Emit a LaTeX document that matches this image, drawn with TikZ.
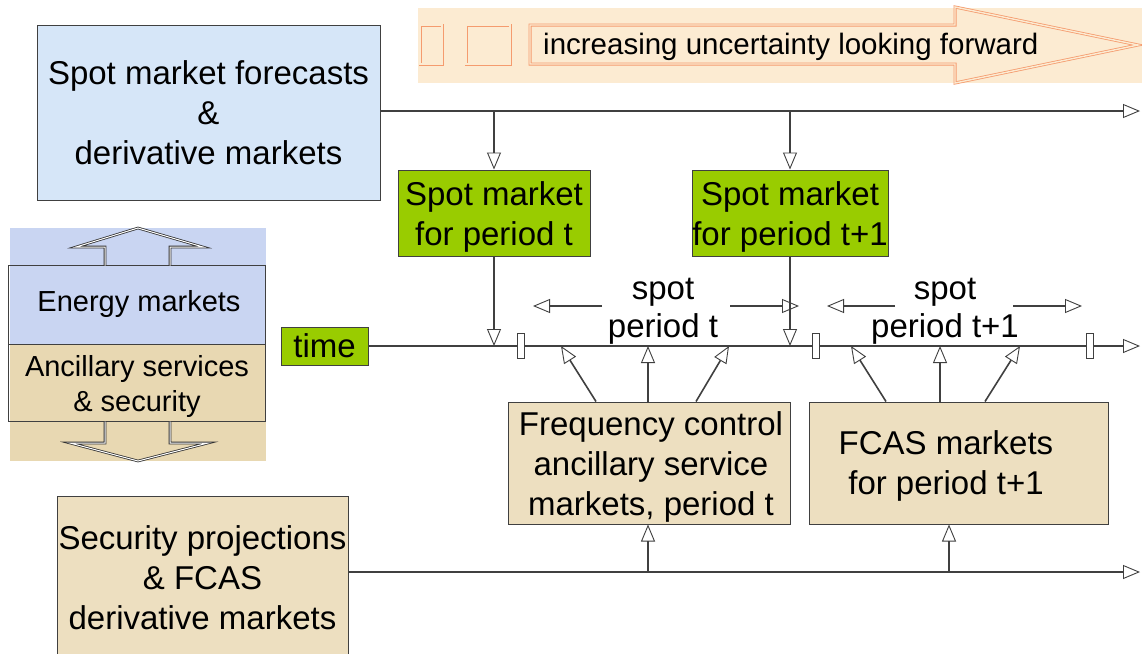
\documentclass[tikz,border=0pt]{standalone}
\usepackage{fontspec}
\setmainfont{Liberation Sans}
\usetikzlibrary{arrows.meta}
\definecolor{bluebox}{HTML}{D6E6F8}
\definecolor{tanbox}{HTML}{EDDFC0}
\definecolor{grn}{HTML}{99CC00}
\definecolor{peach}{HTML}{FCEBD2}
\definecolor{org}{HTML}{F59B6E}
\definecolor{lav}{HTML}{C9D5F2}
\definecolor{tanl}{HTML}{E8D8B2}
\definecolor{ln}{HTML}{404040}
\tikzset{
  big/.style={font=\fontsize{33}{40}\selectfont},
  mid/.style={font=\fontsize{29}{35}\selectfont},
  box/.style={draw=ln, line width=1pt, inner sep=0pt, align=center, big},
  txt/.style={inner sep=0pt, align=center, big},
  conn/.style={draw=ln, line width=1.6pt, -{Triangle[open,length=17pt,width=14pt,line width=0.9pt]}},
  tick/.style={draw=ln, fill=white, line width=0.9pt, minimum width=7pt, minimum height=25pt, inner sep=0pt},
  orng/.style={draw=org, line width=0.8pt, double=peach, double distance=1.4pt},
  pan/.style={draw=black!80, line width=0.8pt, double=white, double distance=1pt},
}
\begin{document}
\begin{tikzpicture}[x=1pt,y=-1pt]
\useasboundingbox (0,0) rectangle (1142,653);
\fill[white] (0,0) rectangle (1142,653);

% banner
\fill[peach] (418,8) rectangle (1142,83);
\draw[orng] (420,25) rectangle (442,64);
\draw[orng] (466,25) rectangle (510,64);
\draw[orng] (530,25) -- (955,25) -- (955,7) -- (1138,45) -- (955,83) -- (955,64) -- (530,64) -- cycle;
\node[font=\fontsize{29.5}{35}\selectfont, anchor=west, inner sep=0pt] (unc) at (543,47) {increasing uncertainty looking forward};

% forecasts box
\node[box, fill=bluebox, minimum width=343pt, minimum height=175pt] (fc) at (208.5,112.5) {Spot market forecasts\\\&\\derivative markets};
\coordinate (fcend) at (1140,111);
\draw[conn] (fc.east |- fcend) -- (fcend);

% green spot markets
\node[box, fill=grn, minimum width=192pt, minimum height=86pt] (g1) at (494,213) {};
\node[txt] (g1t) at (494,217) {Spot market\\for period t};
\node[box, fill=grn, minimum width=196pt, minimum height=86pt] (g2) at (790,213) {};
\node[txt] (g2t) at (790,217) {Spot market\\for period t+1};
\draw[conn] (g1.north |- fcend) -- (g1.north);
\draw[conn] (g2.north |- fcend) -- (g2.north);

% time line
\node[box, fill=grn, minimum width=87pt, minimum height=38pt] (time) at (324.5,346) {time};
\coordinate (tend) at (1140,346);
\draw[conn] (time.east) -- (tend);
\draw[conn] (g1.south) -- (g1.south |- tend);
\draw[conn] (g2.south) -- (g2.south |- tend);
\node[tick] (t1) at (521,346) {};
\node[tick] (t2) at (816,346) {};
\node[tick] (t3) at (1090,346) {};

% spot period labels
\node[txt, font=\fontsize{33}{38}\selectfont] (sp1) at (663,311) {spot\\period t};
\node[txt, font=\fontsize{33}{38}\selectfont] (sp2) at (945,311) {spot\\period t+1};
\coordinate (a1s) at (602,306); \coordinate (a1e) at (533,306);
\coordinate (a2s) at (730,306); \coordinate (a2e) at (799,306);
\coordinate (a3s) at (895,306); \coordinate (a3e) at (827,306);
\coordinate (a4s) at (1013,306); \coordinate (a4e) at (1082,306);
\draw[conn] (a1s) -- (a1e);
\draw[conn] (a2s) -- (a2e);
\draw[conn] (a3s) -- (a3e);
\draw[conn] (a4s) -- (a4e);

% FCAS boxes
\node[box, fill=tanbox, minimum width=282pt, minimum height=122pt] (f1) at (649,463) {};
\node[txt] (f1t) at (651,467) {Frequency control\\ancillary service\\markets, period t};
\node[box, fill=tanbox, minimum width=299pt, minimum height=122pt] (f2) at (958.5,463) {};
\node[txt] (f2t) at (946,466) {FCAS markets\\for period t+1};
\coordinate (p1) at (561,346); \coordinate (p2) at (648,346); \coordinate (p3) at (729,346);
\coordinate (q1) at (851,346); \coordinate (q2) at (940,346); \coordinate (q3) at (1020,346);
\draw[conn] (f1.north -| 596,0) -- (p1);
\draw[conn] (f1.north -| p2) -- (p2);
\draw[conn] (f1.north -| 696,0) -- (p3);
\draw[conn] (f2.north -| 886,0) -- (q1);
\draw[conn] (f2.north -| q2) -- (q2);
\draw[conn] (f2.north -| 985,0) -- (q3);

% security projections
\node[box, fill=tanbox, minimum width=291pt, minimum height=164pt] (sec) at (202.5,578) {Security projections\\\& FCAS\\derivative markets};
\coordinate (send) at (1140,572);
\draw[conn] (sec.east |- send) -- (send);
\draw[conn] (send -| 648,0) -- (f1.south -| 648,0);
\draw[conn] (send -| 949,0) -- (f2.south -| 949,0);

% left panel
\fill[lav] (10,228) rectangle (266,344);
\fill[tanl] (10,344) rectangle (266,461);
\node[draw=ln, line width=1pt, minimum width=257pt, minimum height=79pt, inner sep=0pt] (en) at (137,305) {};
\node[mid, inner sep=0pt] (entext) at (139,304) {Energy markets};
\node[draw=ln, line width=1pt, minimum width=257pt, minimum height=77pt, inner sep=0pt] (anc) at (137,383) {};
\node[mid, inner sep=0pt, align=center] (anctext) at (137,386) {Ancillary services\\\& security};
\draw[pan] (105,265.5) -- (105,247) -- (76,247) -- (138,228) -- (203,247) -- (170,247) -- (170,265.5);
\draw[pan] (105,421.5) -- (105,443) -- (70,443) -- (138,461) -- (208,443) -- (170,443) -- (170,421.5);
\end{tikzpicture}
\end{document}
